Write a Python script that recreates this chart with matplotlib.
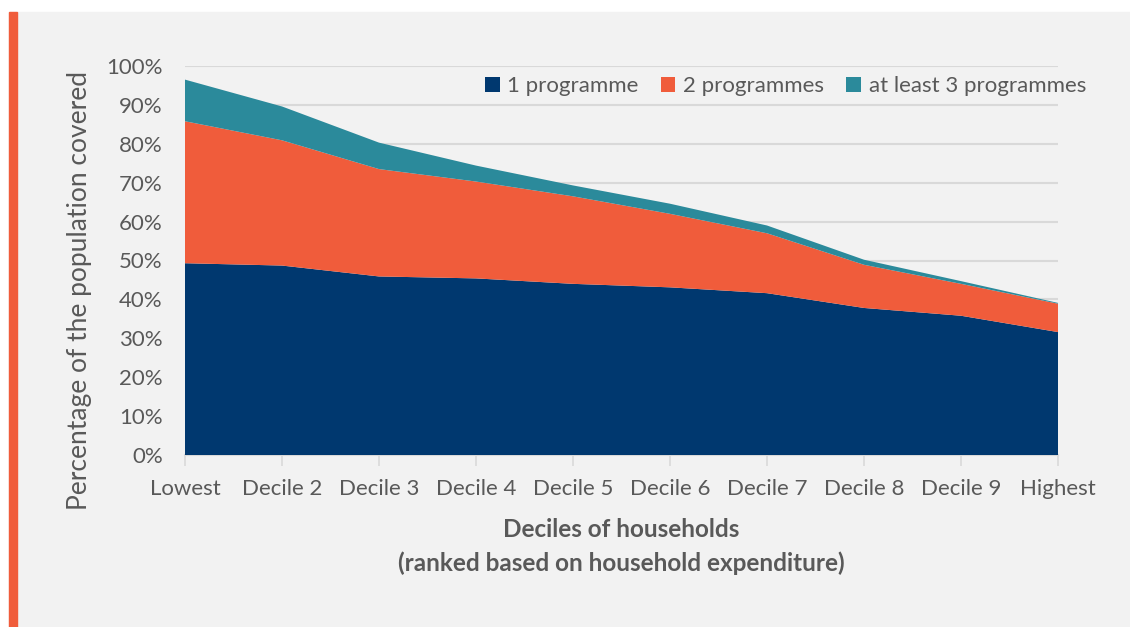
import matplotlib.pyplot as plt
from matplotlib.patches import Rectangle
from matplotlib.ticker import PercentFormatter

deciles = ['Lowest', 'Decile 2', 'Decile 3', 'Decile 4', 'Decile 5',
           'Decile 6', 'Decile 7', 'Decile 8', 'Decile 9', 'Highest']
one_programme = [49.3, 48.7, 45.9, 45.4, 44.0, 43.1, 41.6, 37.8, 35.8, 31.6]
two_programmes = [36.5, 32.2, 27.6, 24.9, 22.5, 18.9, 15.4, 11.1, 8.2, 7.3]
three_plus = [10.7, 8.7, 6.8, 4.1, 2.8, 2.6, 2.0, 1.3, 0.7, 0.2]
series_labels = ['1 programme', '2 programmes', 'at least 3 programmes']
colors = ['#00386f', '#f05c3b', '#2b8a9b']

plt.rcParams['font.family'] = ['Lato', 'DejaVu Sans']
text_col = '#595959'

fig = plt.figure(figsize=(11.3, 6.27), dpi=100)
fig.patch.set_facecolor('white')
# grey panel and orange side bar
fig.patches.append(Rectangle((9 / 1130, 0), 1121 / 1130, 615 / 627,
                             transform=fig.transFigure, color='#f2f2f2', zorder=-2))
fig.patches.append(Rectangle((9 / 1130, 0), 8 / 1130, 615 / 627,
                             transform=fig.transFigure, color='#f05c3b', zorder=-1))

ax = fig.add_axes([185 / 1130, 1 - 455 / 627, 873 / 1130, 389 / 627])
ax.set_facecolor('none')
x = list(range(len(deciles)))
ax.stackplot(x, one_programme, two_programmes, three_plus,
             labels=series_labels, colors=colors, zorder=3)

ax.set_xlim(0, len(deciles) - 1)
ax.set_ylim(0, 100)
ax.set_yticks(range(0, 101, 10))
ax.yaxis.set_major_formatter(PercentFormatter(decimals=0))
ax.set_xticks(x)
ax.set_xticklabels(deciles)
ax.grid(axis='y', color='#d9d9d9', linewidth=1.5, zorder=0)
ax.set_axisbelow(True)
for s in ['top', 'right', 'left']:
    ax.spines[s].set_visible(False)
ax.spines['bottom'].set_color('#d9d9d9')
ax.spines['bottom'].set_linewidth(1.5)
ax.tick_params(axis='y', length=0, pad=16, labelsize=16, labelcolor=text_col)
ax.tick_params(axis='x', length=8, width=1.2, color='#d9d9d9', pad=9,
               labelsize=16, labelcolor=text_col)

ax.set_ylabel('Percentage of the population covered', fontsize=19,
              color=text_col)
ax.yaxis.set_label_coords(-0.107, 0.424)
ax.set_xlabel('Deciles of households\n(ranked based on household expenditure)',
              fontsize=17.5, fontweight='bold', color=text_col, labelpad=14,
              linespacing=1.55)

leg = ax.legend(loc='upper right', ncol=3, frameon=False, fontsize=16,
                handlelength=0.65, handleheight=0.65, handletextpad=0.35,
                columnspacing=1.0, bbox_to_anchor=(1.055, 1.025))
for t in leg.get_texts():
    t.set_color(text_col)

fig.savefig('out.png', dpi=100, facecolor=fig.get_facecolor())
